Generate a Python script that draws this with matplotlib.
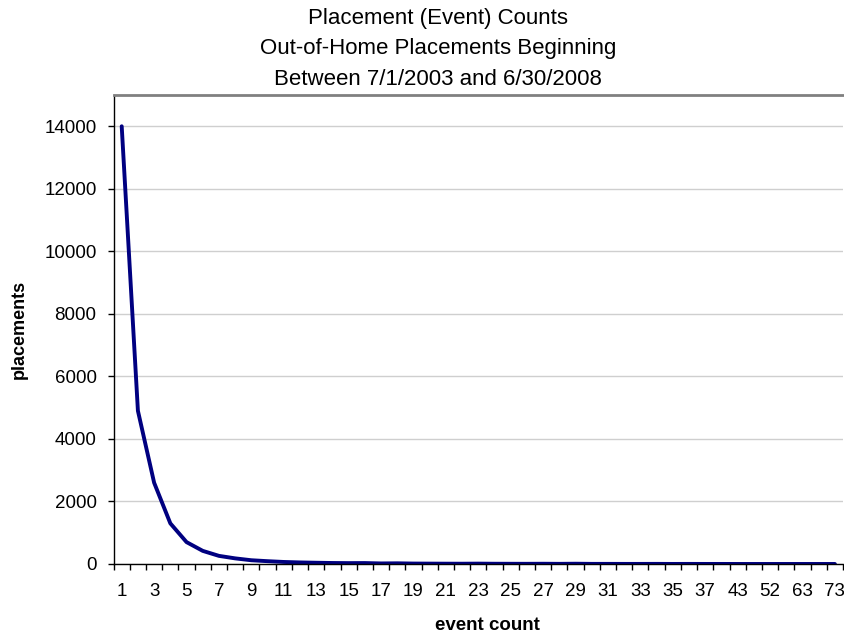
import matplotlib.pyplot as plt

plt.rcParams["font.family"] = ["Liberation Sans", "DejaVu Sans"]

# event count categories (x axis) and number of placements
event_counts = list(range(1, 39)) + [43, 46, 52, 58, 63, 68, 73]
placements = [14000, 4900, 2600, 1300, 700, 420, 260, 180, 120, 90,
              65, 50, 40, 32, 28, 30, 18, 22, 14, 12,
              10, 9, 12, 8, 7, 6, 8, 5, 9, 4,
              4, 3, 3, 4, 2, 3, 2, 2, 1, 1,
              1, 1, 1, 1, 1]
y_ticks = [0, 2000, 4000, 6000, 8000, 10000, 12000, 14000]

title = "Placement (Event) Counts\nOut-of-Home Placements Beginning\nBetween 7/1/2003 and 6/30/2008"

fig = plt.figure(figsize=(8.45, 6.34), dpi=100)
ax = fig.add_axes([113.6 / 845, 1 - 564 / 634, (843 - 113.6) / 845, (564 - 95) / 634])

xs = list(range(len(event_counts)))
ax.plot(xs, placements, color="#000080", linewidth=2.8, solid_joinstyle="round",
        solid_capstyle="round")

ax.set_xlim(-0.5, len(event_counts) - 0.5)
ax.set_ylim(0, 15000)

# tick marks sit between categories, labels on every other category
ax.set_xticks([i - 0.5 for i in range(len(event_counts) + 1)])
ax.set_xticklabels([])
ax.set_xticks(xs[::2], minor=True)
ax.set_xticklabels([str(c) for c in event_counts[::2]], minor=True)
ax.tick_params(axis="x", which="major", length=4.3, width=1, direction="out", color="black")
ax.tick_params(axis="x", which="minor", length=0, pad=14, labelsize=13.5)

ax.set_yticks(y_ticks)
ax.set_yticklabels([str(v) for v in y_ticks])
ax.tick_params(axis="y", length=4.3, width=1, direction="out", labelsize=13.5, pad=8)

ax.grid(axis="y", color="#cfcfcf", linewidth=1)
ax.set_axisbelow(True)

ax.spines["top"].set_color("#808080")
ax.spines["top"].set_linewidth(2)
ax.spines["right"].set_visible(False)
ax.spines["left"].set_linewidth(1)
ax.spines["bottom"].set_linewidth(1)

ax.set_xlabel("event count", fontsize=13.5, fontweight="bold", labelpad=12,
              x=(487 - 113.6) / (843 - 113.6))
ax.set_ylabel("placements", fontsize=13, fontweight="bold", labelpad=12)

fig.text(438 / 845, 0.988, title, fontsize=16, ha="center", va="top", linespacing=1.6)

fig.savefig("out.png", dpi=100)
